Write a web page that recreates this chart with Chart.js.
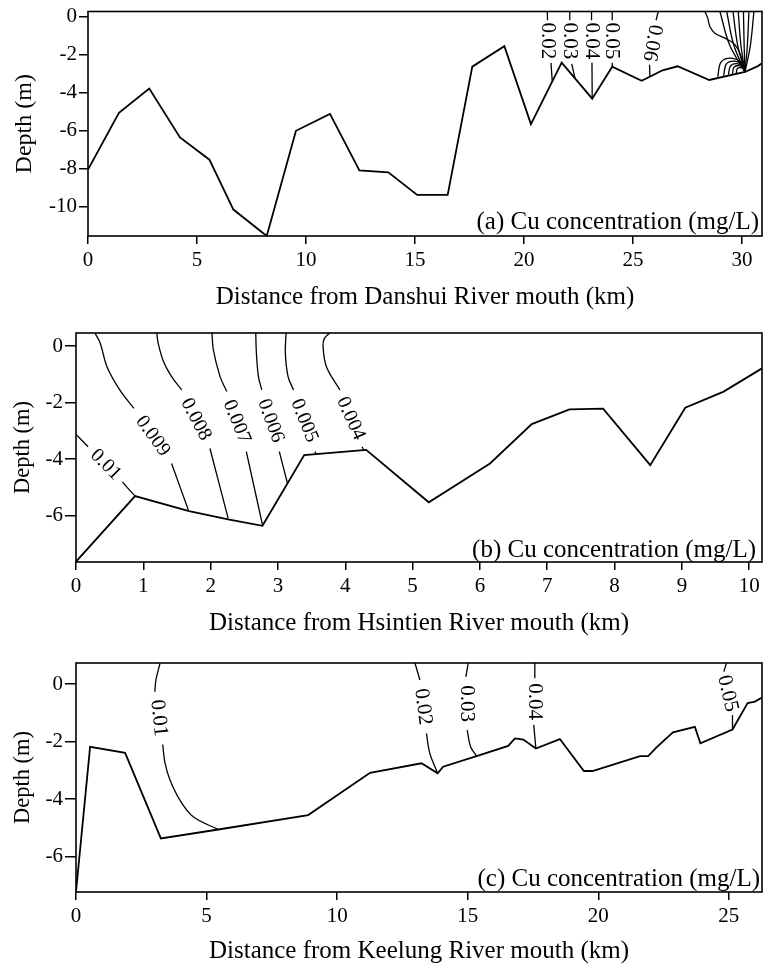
<!DOCTYPE html>
<html>
<head>
<meta charset="utf-8">
<script src="https://cdn.jsdelivr.net/npm/chart.js@4.4.1/dist/chart.umd.min.js"></script>
<style>
  body { margin: 0; background: #fff; }
  #wrap { position: relative; width: 769px; height: 966px; }
  canvas { position: absolute; left: 0; }
</style>
</head>
<body>
<div id="wrap">
  <canvas id="cuA" width="769" height="318" style="top:0px"></canvas>
  <canvas id="cuB" width="769" height="330" style="top:310px"></canvas>
  <canvas id="cuC" width="769" height="326" style="top:640px"></canvas>
</div>
<script>
// ---- (a) Danshui River ----
const danshuiKm = [0, 1.42, 2.81, 4.22, 5.57, 6.67, 8.2, 9.54, 11.1, 12.45, 13.78, 15.1, 16.5, 17.63, 19.1, 20.32, 21.73, 23.13, 24.05, 25.4, 26.36, 27.05, 28.5, 30.14, 30.73, 30.92];
const danshuiDepth = [-8.06, -5.08, -3.8, -6.37, -7.54, -10.16, -11.55, -6.02, -5.13, -8.1, -8.2, -9.39, -9.39, -2.65, -1.57, -5.67, -2.44, -4.33, -2.65, -3.39, -2.84, -2.63, -3.35, -2.93, -2.62, -2.47];
const danshuiIsolines = [
  [[21.07, 0.25], [21.08, -0.21]], [[21.24, -2.45], [21.3, -3.45]],
  [[22.1, 0.25], [22.1, -0.21]], [[22.19, -2.5], [22.34, -3.25]],
  [[23.1, 0.25], [23.1, -0.21]], [[23.12, -2.45], [23.13, -4.33]],
  [[24.05, 0.25], [24.05, -0.21]], [[24.05, -2.45], [24.05, -2.65]],
  [[26.16, 0.25], [26.06, -0.21]], [[25.76, -2.55], [25.78, -3.18]],
  // fan near the mouth
  [[28.3, 0.25], [28.43, -0.1], [28.53, -0.54], [28.76, -0.89], [29.22, -1.15], [29.6, -1.41], [29.83, -1.76], [30.01, -2.29], [30.14, -2.93]],
  [[28.99, 0.25], [29.43, -1.5], [30.14, -2.93]],
  [[29.3, 0.25], [29.62, -1.5], [30.14, -2.93]],
  [[29.59, 0.25], [29.8, -1.5], [30.14, -2.93]],
  [[29.83, 0.25], [29.95, -1.5], [30.14, -2.93]],
  [[30.07, 0.25], [30.1, -1.5], [30.14, -2.93]],
  [[30.32, 0.25], [30.25, -1.5], [30.14, -2.93]],
  [[30.55, 0.25], [30.39, -1.5], [30.14, -2.93]],
  // loops closing on the same point
  [[28.89, -3.18], [29.04, -2.41], [29.5, -2.2], [29.99, -2.46], [30.14, -2.93]],
  [[29.16, -3.13], [29.28, -2.52], [29.63, -2.36], [30.02, -2.56], [30.14, -2.93]],
  [[29.38, -3.08], [29.47, -2.62], [29.75, -2.49], [30.05, -2.64], [30.14, -2.93]],
  [[29.56, -3.05], [29.63, -2.69], [29.84, -2.59], [30.06, -2.71], [30.14, -2.93]],
  [[29.74, -3.01], [29.78, -2.76], [29.93, -2.7], [30.09, -2.78], [30.14, -2.93]]
];
const danshuiLabels = ['0.02', '0.03', '0.04', '0.05', '0.06'];
const danshuiLabelKm = [21.08, 22.1, 23.08, 24.03, 25.88];
const danshuiLabelDepth = [-1.3, -1.3, -1.3, -1.3, -1.4];
const danshuiLabelAngle = [90, 90, 90, 90, 100];
const danshuiXTicks = [0, 5, 10, 15, 20, 25, 30];
const danshuiYTicks = [-10, -8, -6, -4, -2, 0];

// ---- (b) Hsintien River ----
const hsintienKm = [0, 0.877, 1.68, 2.26, 2.77, 3.39, 4.31, 5.24, 6.15, 6.77, 7.33, 7.83, 8.53, 9.05, 9.62, 10.19];
const hsintienDepth = [-7.62, -5.3, -5.83, -6.12, -6.35, -3.85, -3.67, -5.52, -4.15, -2.76, -2.24, -2.21, -4.21, -2.18, -1.61, -0.79];
const hsintienIsolines = [
  [[0, -3.12], [0.18, -3.56]], [[0.69, -4.8], [0.8, -5.1], [0.877, -5.3]],
  [[0.28, 0.46], [0.36, 0.1], [0.46, -0.73], [0.65, -1.55], [0.86, -2.2]], [[1.42, -4.15], [1.67, -5.8]],
  [[1.2, 0.46], [1.22, 0.1], [1.3, -0.55], [1.42, -1.08], [1.57, -1.55]], [[1.99, -3.62], [2.26, -6.09]],
  [[2.02, 0.46], [2.04, -0.14], [2.14, -1.08], [2.24, -1.61]], [[2.53, -3.73], [2.77, -6.32]],
  [[2.67, 0.46], [2.68, -0.26], [2.71, -1.08], [2.76, -1.55]], [[3.02, -3.73], [3.14, -4.84]],
  [[3.12, 0.46], [3.11, -0.26], [3.15, -1.08], [3.23, -1.55]], [[3.55, -3.73], [3.57, -3.83]],
  [[3.77, 0.46], [3.69, 0.27], [3.67, -0.02], [3.72, -0.73], [3.92, -1.55]], [[4.25, -3.56], [4.27, -3.67]]
];
const hsintienLabels = ['0.01', '0.009', '0.008', '0.007', '0.006', '0.005', '0.004'];
const hsintienLabelKm = [0.44, 1.14, 1.78, 2.385, 2.89, 3.39, 4.08];
const hsintienLabelDepth = [-4.19, -3.18, -2.59, -2.67, -2.64, -2.64, -2.56];
const hsintienLabelAngle = [45, 54, 62, 68, 70, 68, 66];
const hsintienXTicks = [0, 1, 2, 3, 4, 5, 6, 7, 8, 9, 10];
const hsintienYTicks = [-6, -4, -2, 0];

// ---- (c) Keelung River ----
const keelungKm = [0, 0.54, 1.88, 3.25, 5.45, 8.89, 11.26, 13.23, 13.85, 14.06, 15.34, 16.55, 16.81, 17.13, 17.61, 18.53, 19.45, 19.78, 21.6, 21.91, 22.23, 22.86, 23.7, 23.91, 25.14, 25.72, 26.0, 26.27];
const keelungDepth = [-7.21, -2.18, -2.39, -5.36, -5.05, -4.55, -3.08, -2.75, -3.1, -2.87, -2.5, -2.15, -1.89, -1.93, -2.24, -1.91, -3.02, -3.02, -2.5, -2.5, -2.2, -1.68, -1.49, -2.06, -1.58, -0.66, -0.61, -0.47];
const keelungIsolines = [
  [[3.22, 0.73], [3.06, 0.14], [3.02, -0.27]], [[3.32, -2.1], [3.41, -2.75], [3.6, -3.33], [3.98, -4.03], [4.49, -4.61], [5.45, -5.05]],
  [[12.98, 0.73], [13.17, 0.14]], [[13.42, -1.71], [13.55, -2.41], [13.85, -3.1]],
  [[15.02, 0.73], [14.93, 0.25]], [[14.98, -1.6], [15.11, -2.18], [15.34, -2.5]],
  [[17.57, 0.73], [17.57, 0.2]], [[17.53, -1.42], [17.61, -2.24]],
  [[24.91, 0.73], [24.81, 0.43]], [[25.14, -1.08], [25.14, -1.58]]
];
const keelungLabels = ['0.01', '0.02', '0.03', '0.04', '0.05'];
const keelungLabelKm = [3.17, 13.29, 14.95, 17.55, 24.95];
const keelungLabelDepth = [-1.18, -0.79, -0.68, -0.61, -0.33];
const keelungLabelAngle = [84, 83, 90, 90, 77];
const keelungXTicks = [0, 5, 10, 15, 20, 25];
const keelungYTicks = [-6, -4, -2, 0];

const serif = "'Liberation Serif', 'Times New Roman', serif";
Chart.defaults.font.family = serif;
Chart.defaults.color = '#000';

// box around the plot area, isoline values and the panel caption
const sectionDecor = {
  id: 'sectionDecor',
  afterDatasetsDraw(chart, args, o) {
    const {ctx, chartArea: a, scales: {x, y}} = chart;
    ctx.save();
    ctx.fillStyle = '#000';
    ctx.font = o.labelSize + 'px ' + serif;
    ctx.textAlign = 'center';
    ctx.textBaseline = 'middle';
    o.text.forEach((t, i) => {
      ctx.save();
      ctx.translate(x.getPixelForValue(o.km[i]), y.getPixelForValue(o.depth[i]));
      ctx.rotate(o.angle[i] * Math.PI / 180);
      ctx.fillText(t, 0, 0);
      ctx.restore();
    });
    ctx.font = '25px ' + serif;
    ctx.textAlign = 'right';
    ctx.textBaseline = 'alphabetic';
    ctx.fillText(o.caption, a.right - o.capDx, a.bottom - o.capDy);
    ctx.strokeStyle = '#000';
    ctx.lineWidth = 1.6;
    ctx.strokeRect(a.left, a.top, a.right - a.left, a.bottom - a.top);
    ctx.restore();
  }
};

function section(id, p) {
  const datasets = [];
  const addLine = (pts, width, tension) => datasets.push({
    data: pts.map(q => ({x: q[0], y: q[1]})),
    borderColor: '#000', borderWidth: width, pointRadius: 0, tension: tension, fill: false
  });
  addLine(p.km.map((k, i) => [k, p.depth[i]]), 1.8, 0);
  p.isolines.forEach(seg => addLine(seg, 1.3, 0.35));

  return new Chart(document.getElementById(id), {
    type: 'line',
    data: {datasets},
    options: {
      responsive: false,
      animation: false,
      events: [],
      layout: {padding: {left: 0, right: 7, top: p.top, bottom: 0}},
      plugins: {
        legend: {display: false},
        tooltip: {enabled: false},
        sectionDecor: {
          text: p.labels, km: p.labelKm, depth: p.labelDepth, angle: p.labelAngle,
          labelSize: p.labelSize, caption: p.caption, capDx: p.capDx, capDy: p.capDy
        }
      },
      scales: {
        x: {
          type: 'linear', min: 0, max: p.xMax,
          afterBuildTicks: s => { s.ticks = p.xTicks.map(v => ({value: v})); },
          afterFit: s => { s.height = p.xHeight; s.paddingLeft = 0; s.paddingRight = 0; },
          ticks: {font: {size: 21}, padding: 4, maxRotation: 0, autoSkip: false, callback: v => String(v)},
          grid: {drawOnChartArea: false, drawTicks: true, tickLength: 8, color: '#000', lineWidth: 1.5},
          border: {display: false},
          title: {display: true, text: p.xTitle, font: {size: 25, lineHeight: 1.2}, padding: {top: 0, bottom: p.xTitlePad}}
        },
        y: {
          type: 'linear', min: p.yMin, max: p.yMax,
          afterBuildTicks: s => { s.ticks = p.yTicks.map(v => ({value: v})); },
          afterFit: s => { s.width = p.yWidth; s.paddingTop = 0; s.paddingBottom = 0; },
          ticks: {font: {size: 21}, padding: 2, autoSkip: false, callback: v => String(v)},
          grid: {drawOnChartArea: false, drawTicks: true, tickLength: p.yTickLen, color: '#000', lineWidth: 1.5},
          border: {display: false},
          title: {display: true, text: 'Depth (m)', font: {size: p.yTitleSize, lineHeight: 1.2}, padding: {top: 10, bottom: 0}}
        }
      }
    },
    plugins: [sectionDecor]
  });
}

section('cuA', {
  km: danshuiKm, depth: danshuiDepth, isolines: danshuiIsolines,
  labels: danshuiLabels, labelKm: danshuiLabelKm, labelDepth: danshuiLabelDepth, labelAngle: danshuiLabelAngle, labelSize: 21,
  xTicks: danshuiXTicks, yTicks: danshuiYTicks, xMax: 30.92, yMin: -11.55, yMax: 0.25,
  top: 11.5, xHeight: 82, yWidth: 88, yTickLen: 9, xTitlePad: 6, yTitleSize: 24,
  xTitle: 'Distance from Danshui River mouth (km)', caption: '(a) Cu concentration (mg/L)', capDx: 3, capDy: 7
});

section('cuB', {
  km: hsintienKm, depth: hsintienDepth, isolines: hsintienIsolines,
  labels: hsintienLabels, labelKm: hsintienLabelKm, labelDepth: hsintienLabelDepth, labelAngle: hsintienLabelAngle, labelSize: 20,
  xTicks: hsintienXTicks, yTicks: hsintienYTicks, xMax: 10.19, yMin: -7.63, yMax: 0.46,
  top: 23, xHeight: 78, yWidth: 76, yTickLen: 11, xTitlePad: 2, yTitleSize: 22.5,
  xTitle: 'Distance from Hsintien River mouth (km)', caption: '(b) Cu concentration (mg/L)', capDx: 6, capDy: 5
});

section('cuC', {
  km: keelungKm, depth: keelungDepth, isolines: keelungIsolines,
  labels: keelungLabels, labelKm: keelungLabelKm, labelDepth: keelungLabelDepth, labelAngle: keelungLabelAngle, labelSize: 21,
  xTicks: keelungXTicks, yTicks: keelungYTicks, xMax: 26.27, yMin: -7.22, yMax: 0.73,
  top: 23, xHeight: 74, yWidth: 76, yTickLen: 11, xTitlePad: 0, yTitleSize: 22.5,
  xTitle: 'Distance from Keelung River mouth (km)', caption: '(c) Cu concentration (mg/L)', capDx: 2, capDy: 6
});
</script>
</body>
</html>
